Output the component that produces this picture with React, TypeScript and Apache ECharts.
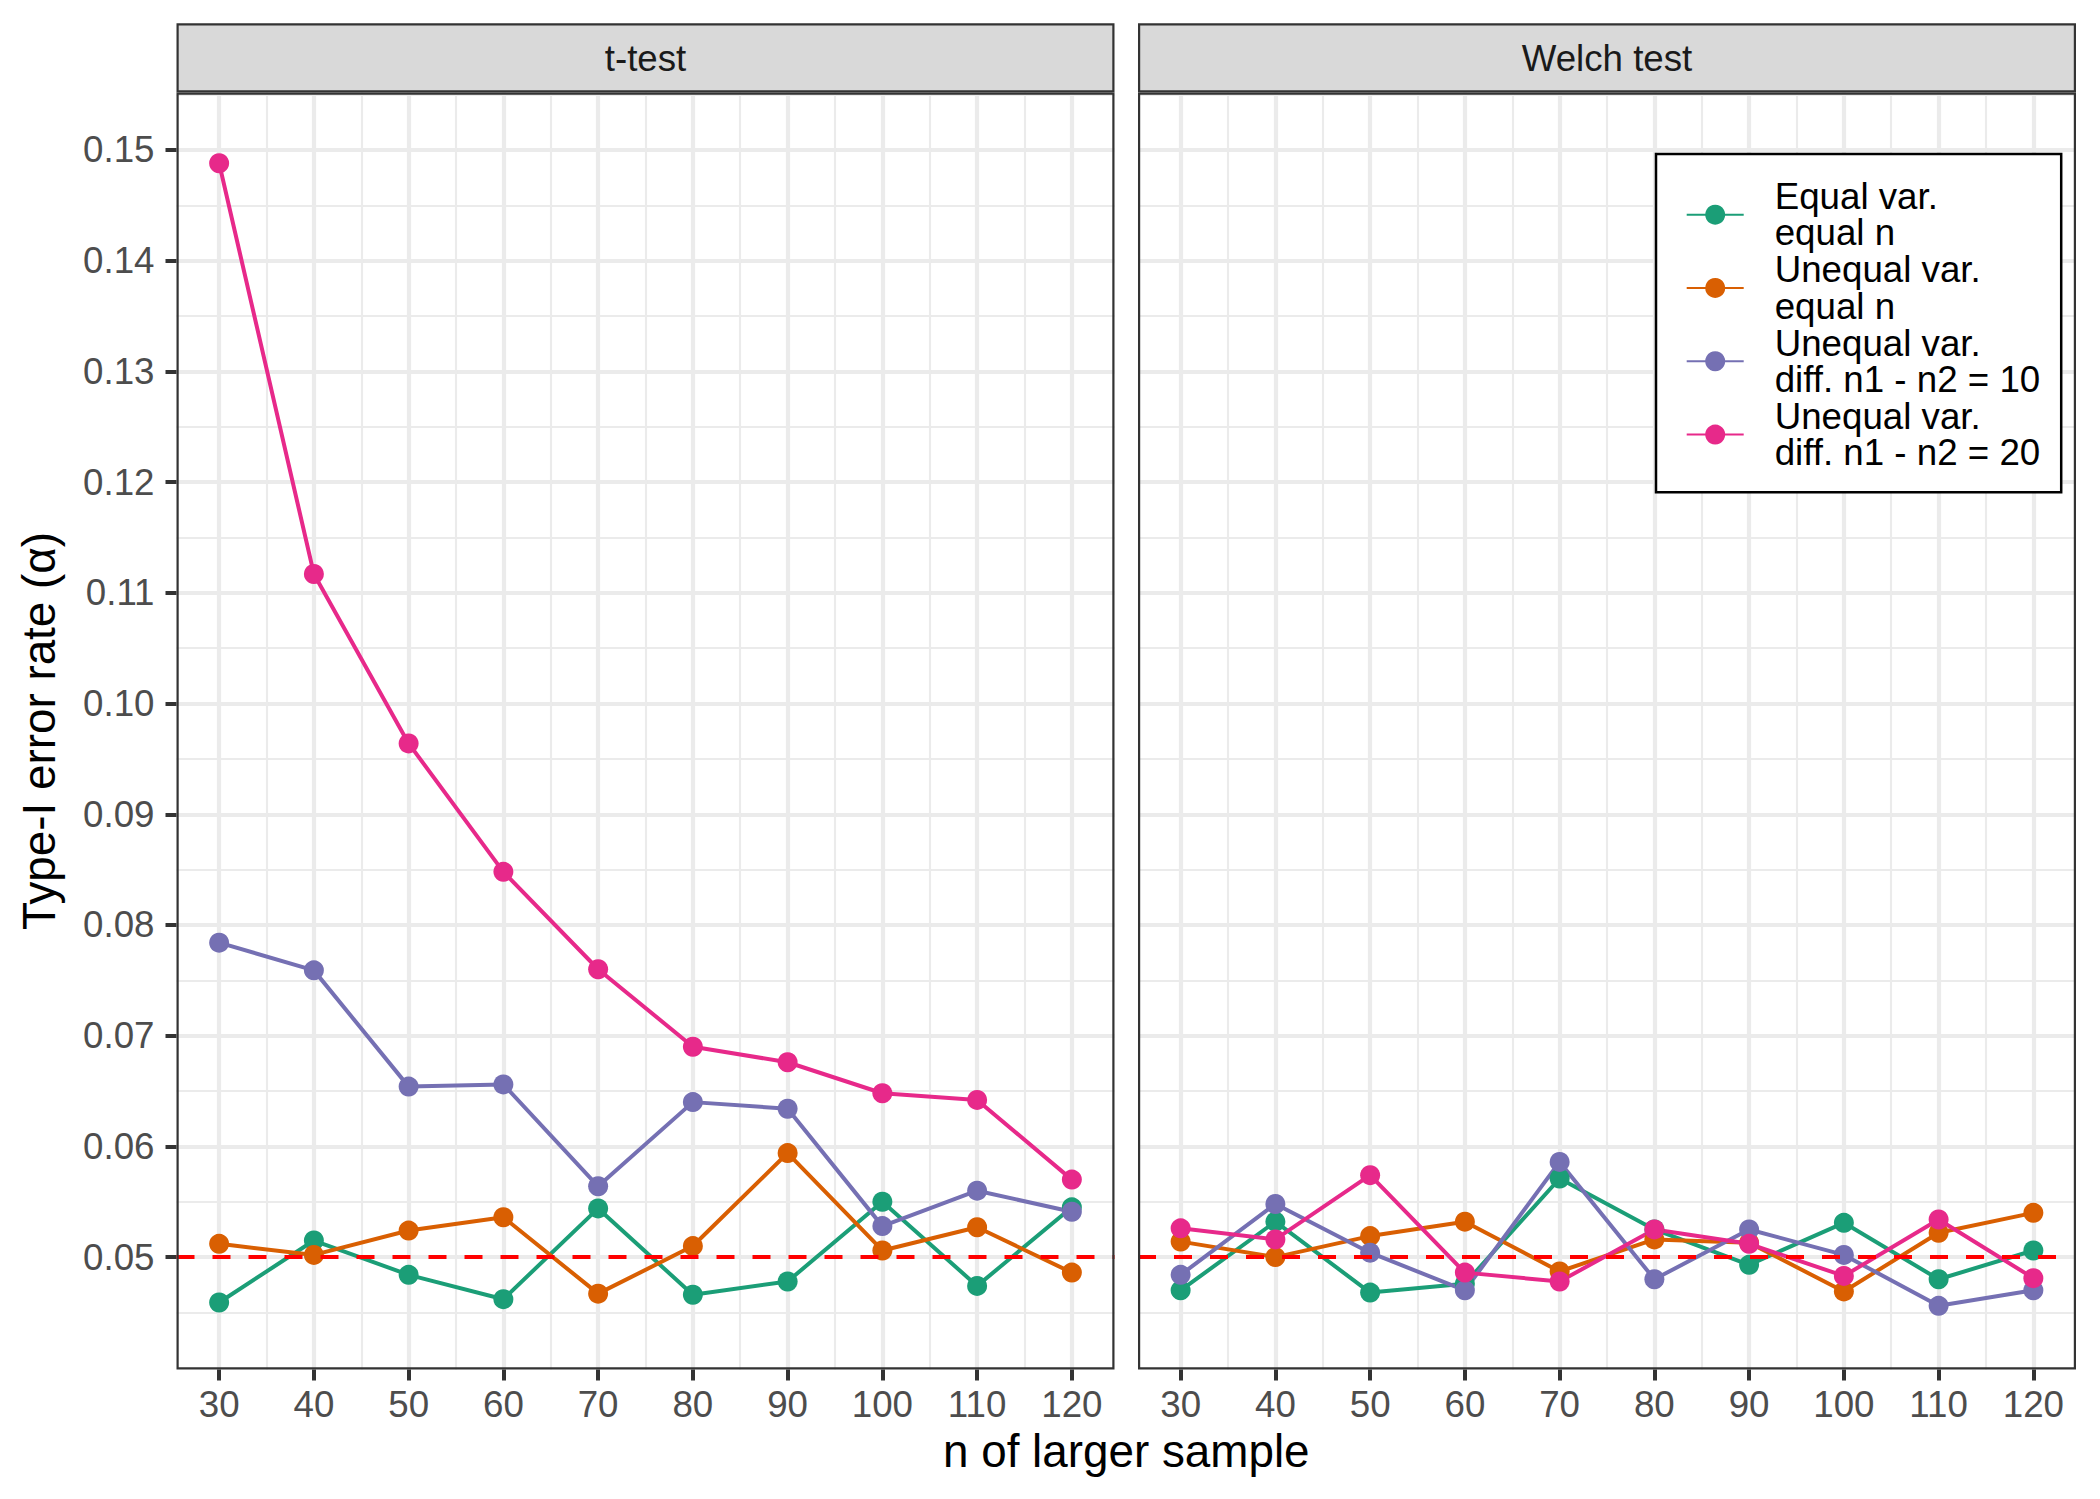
import React, { useEffect, useRef } from "react";
import * as echarts from "echarts";

// ---------- data ----------
const nValues = [30, 40, 50, 60, 70, 80, 90, 100, 110, 120];

const seriesNames = [
  "Equal var.\nequal n",
  "Unequal var.\nequal n",
  "Unequal var.\ndiff. n1 - n2 = 10",
  "Unequal var.\ndiff. n1 - n2 = 20",
];
const seriesColors = ["#1B9E77", "#D95F02", "#7570B3", "#E7298A"];
const panelTitles = ["t-test", "Welch test"];

// t-test panel
const tEqualVarEqualN = [0.0459, 0.0515, 0.0484, 0.0462, 0.0544, 0.0466, 0.0478, 0.055, 0.0474, 0.0545];
const tUnequalVarEqualN = [0.0512, 0.0502, 0.0524, 0.0536, 0.0467, 0.051, 0.0594, 0.0506, 0.0527, 0.0486];
const tUnequalVarDiff10 = [0.0784, 0.0759, 0.0654, 0.0656, 0.0564, 0.064, 0.0634, 0.0528, 0.056, 0.0541];
const tUnequalVarDiff20 = [0.1488, 0.1117, 0.0964, 0.0848, 0.076, 0.069, 0.0676, 0.0648, 0.0642, 0.057];

// Welch panel
const wEqualVarEqualN = [0.047, 0.0532, 0.0468, 0.0476, 0.0571, 0.0525, 0.0493, 0.0531, 0.048, 0.0506];
const wUnequalVarEqualN = [0.0514, 0.05, 0.0519, 0.0532, 0.0487, 0.0516, 0.0513, 0.0469, 0.0522, 0.054];
const wUnequalVarDiff10 = [0.0484, 0.0548, 0.0504, 0.047, 0.0586, 0.048, 0.0525, 0.0502, 0.0456, 0.047];
const wUnequalVarDiff20 = [0.0526, 0.0516, 0.0574, 0.0486, 0.0478, 0.0525, 0.0512, 0.0483, 0.0534, 0.0481];

const alphaLevel = 0.05;

const xMajorTicks = [30, 40, 50, 60, 70, 80, 90, 100, 110, 120];
const xMinorTicks = [35, 45, 55, 65, 75, 85, 95, 105, 115];
const yMajorTicks = [0.05, 0.06, 0.07, 0.08, 0.09, 0.1, 0.11, 0.12, 0.13, 0.14, 0.15];
const yMinorTicks = [0.045, 0.055, 0.065, 0.075, 0.085, 0.095, 0.105, 0.115, 0.125, 0.135, 0.145, 0.155];

const X_MIN = 25.5;
const X_MAX = 124.5;
const Y_MIN = 0.03985;
const Y_MAX = 0.15519;

// ---------- layout ----------
const FONT = "'Liberation Sans', Arial, Helvetica, sans-serif";
const PANEL_LEFTS = [176.5, 1138];
const PANEL_TOP = 92.5;
const PANEL_W = 938;
const PANEL_H = 1277;
const STRIP_TOP = 23.3;
const BORDER = 2.2;

function buildOption() {
  const panelData = [
    [tEqualVarEqualN, tUnequalVarEqualN, tUnequalVarDiff10, tUnequalVarDiff20],
    [wEqualVarEqualN, wUnequalVarEqualN, wUnequalVarDiff10, wUnequalVarDiff20],
  ];

  const grid = PANEL_LEFTS.map((left) => ({
    left,
    top: PANEL_TOP,
    width: PANEL_W,
    height: PANEL_H,
    show: false,
    containLabel: false,
  }));

  const xMajor = PANEL_LEFTS.map((_, p) => ({
    type: "value",
    gridIndex: p,
    min: X_MIN,
    max: X_MAX,
    position: "bottom",
    axisLine: { show: false },
    axisTick: {
      show: true,
      length: 11,
      customValues: xMajorTicks,
      lineStyle: { color: "#333333", width: 4 },
    },
    axisLabel: {
      show: true,
      customValues: xMajorTicks,
      margin: 16.5,
      color: "#4D4D4D",
      fontSize: 36.7,
      fontFamily: FONT,
    },
    splitLine: { show: true, lineStyle: { color: "#EBEBEB", width: 4.2 } },
  }));
  const xMinor = PANEL_LEFTS.map((_, p) => ({
    type: "value",
    gridIndex: p,
    min: X_MIN,
    max: X_MAX,
    position: "top",
    axisLine: { show: false },
    axisTick: { show: false, customValues: xMinorTicks },
    axisLabel: { show: false, customValues: xMinorTicks },
    splitLine: { show: true, lineStyle: { color: "#EBEBEB", width: 2.1 } },
  }));

  const yMajor = PANEL_LEFTS.map((_, p) => ({
    type: "value",
    gridIndex: p,
    min: Y_MIN,
    max: Y_MAX,
    position: "left",
    axisLine: { show: false },
    axisTick: {
      show: p === 0,
      length: 11,
      customValues: yMajorTicks,
      lineStyle: { color: "#333333", width: 4 },
    },
    axisLabel: {
      show: p === 0,
      customValues: yMajorTicks,
      margin: 22,
      color: "#4D4D4D",
      fontSize: 36.7,
      fontFamily: FONT,
      formatter: (v: number) => v.toFixed(2),
    },
    splitLine: { show: true, lineStyle: { color: "#EBEBEB", width: 4.2 } },
  }));
  const yMinor = PANEL_LEFTS.map((_, p) => ({
    type: "value",
    gridIndex: p,
    min: Y_MIN,
    max: Y_MAX,
    position: "right",
    axisLine: { show: false },
    axisTick: { show: false, customValues: yMinorTicks },
    axisLabel: { show: false, customValues: yMinorTicks },
    splitLine: { show: true, lineStyle: { color: "#EBEBEB", width: 2.1 } },
  }));

  const series: any[] = [];
  // lines first (as in ggplot: geom_line layer below geom_point layer)
  panelData.forEach((group, p) => {
    group.forEach((vals, i) => {
      series.push({
        type: "line",
        name: seriesNames[i],
        xAxisIndex: p,
        yAxisIndex: p,
        data: nValues.map((n, k) => [n, vals[k]]),
        symbol: "circle",
        symbolSize: 20,
        showSymbol: false,
        lineStyle: { color: seriesColors[i], width: 4 },
        itemStyle: { color: seriesColors[i] },
        emphasis: { disabled: true },
        z: 2,
      });
    });
  });
  panelData.forEach((group, p) => {
    group.forEach((vals, i) => {
      const s: any = {
        type: "scatter",
        name: seriesNames[i],
        xAxisIndex: p,
        yAxisIndex: p,
        data: nValues.map((n, k) => [n, vals[k]]),
        symbol: "circle",
        symbolSize: 20,
        itemStyle: { color: seriesColors[i], opacity: 1 },
        emphasis: { disabled: true },
        z: 3,
      };
      if (i === group.length - 1) {
        s.markLine = {
          silent: true,
          symbol: ["none", "none"],
          label: { show: false },
          emphasis: { disabled: true },
          lineStyle: { color: "#FF0000", type: [18, 18], width: 4.2, opacity: 1 },
          data: [{ yAxis: alphaLevel }],
          z: 5,
        };
      }
      series.push(s);
    });
  });

  const graphic: any[] = [];
  PANEL_LEFTS.forEach((left, p) => {
    // strip
    graphic.push({
      type: "rect",
      silent: true,
      z: 50,
      shape: {
        x: left + BORDER / 2,
        y: STRIP_TOP + BORDER / 2,
        width: PANEL_W - BORDER,
        height: PANEL_TOP - STRIP_TOP - BORDER,
      },
      style: { fill: "#D9D9D9", stroke: "#333333", lineWidth: BORDER },
    });
    graphic.push({
      type: "text",
      silent: true,
      z: 51,
      x: left + PANEL_W / 2,
      y: (STRIP_TOP + PANEL_TOP) / 2 + 0.5,
      style: {
        text: panelTitles[p],
        fill: "#1A1A1A",
        font: `36.7px ${FONT}`,
        textAlign: "center",
        textVerticalAlign: "middle",
      },
    });
    // panel border
    graphic.push({
      type: "rect",
      silent: true,
      z: 50,
      shape: {
        x: left + BORDER / 2,
        y: PANEL_TOP + BORDER / 2,
        width: PANEL_W - BORDER,
        height: PANEL_H - BORDER,
      },
      style: { fill: "none", stroke: "#333333", lineWidth: BORDER },
    });
  });
  // axis titles
  graphic.push({
    type: "text",
    silent: true,
    z: 51,
    x: (PANEL_LEFTS[0] + PANEL_LEFTS[1] + PANEL_W) / 2,
    y: 1451,
    style: {
      text: "n of larger sample",
      fill: "#000000",
      font: `45.8px ${FONT}`,
      textAlign: "center",
      textVerticalAlign: "middle",
    },
  });
  graphic.push({
    type: "text",
    silent: true,
    z: 51,
    x: 39.5,
    y: PANEL_TOP + PANEL_H / 2,
    rotation: Math.PI / 2,
    style: {
      text: "Type-I error rate (\u03B1)",
      fill: "#000000",
      font: `45.8px ${FONT}`,
      textAlign: "center",
      textVerticalAlign: "middle",
    },
  });

  return {
    animation: false,
    backgroundColor: "#FFFFFF",
    textStyle: { fontFamily: FONT },
    grid,
    xAxis: [...xMajor, ...xMinor],
    yAxis: [...yMajor, ...yMinor],
    legend: {
      show: true,
      data: seriesNames,
      orient: "vertical",
      left: 1656,
      top: 154,
      itemWidth: 57,
      itemHeight: 25,
      itemGap: 0,
      padding: [24, 21, 21, 29.7],
      backgroundColor: "#FFFFFF",
      borderColor: "#000000",
      borderWidth: 2.5,
      borderRadius: 0,
      selectedMode: false,
      z: 60,
      textStyle: {
        color: "#000000",
        fontSize: 36.7,
        lineHeight: 36.3,
        fontFamily: FONT,
        padding: [0, 0, 0, 26],
      },
    },
    graphic,
    series,
  };
}

export default function App() {
  const ref = useRef<HTMLDivElement>(null);
  useEffect(() => {
    if (!ref.current) return;
    const chart = echarts.init(ref.current, undefined, { renderer: "svg" });
    chart.setOption(buildOption() as any);
    return () => {
      chart.dispose();
    };
  }, []);
  return (
    <div
      ref={ref}
      style={{
        position: "absolute",
        left: 0,
        top: 0,
        width: 2100,
        height: 1499,
        background: "#FFFFFF",
      }}
    />
  );
}
